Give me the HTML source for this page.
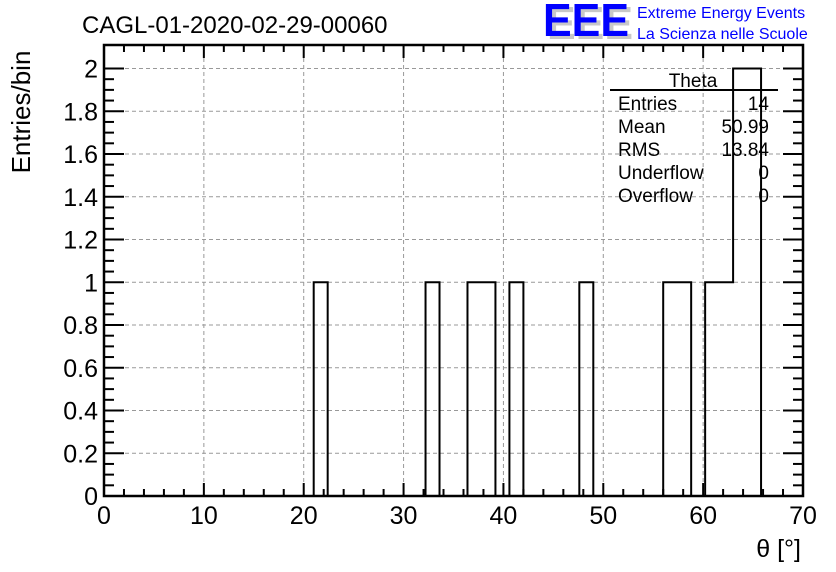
<!DOCTYPE html>
<html><head><meta charset="utf-8"><style>
html,body{margin:0;padding:0;background:#fff;}
svg{display:block;font-family:"Liberation Sans",Arial,sans-serif;}
</style></head><body>
<svg id="c" width="836" height="572" viewBox="0 0 836 572">
<rect width="836" height="572" fill="#fff"/>
<g id="grid"></g>
<g id="hist"></g>
<g id="axes"></g>
<text x="82" y="33" font-size="24">CAGL-01-2020-02-29-00060</text>
<g>
<text x="547" y="39" font-size="46" font-weight="bold" fill="#c8c8c8" textLength="86" lengthAdjust="spacingAndGlyphs">EEE</text>
<text x="543" y="36" font-size="46" font-weight="bold" fill="#0000ff" textLength="86" lengthAdjust="spacingAndGlyphs">EEE</text>
<text x="637" y="18" font-size="16" fill="#0000ff">Extreme Energy Events</text>
<text x="637" y="39" font-size="16" fill="#0000ff">La Scienza nelle Scuole</text>
</g>
<g font-size="19">
<text x="693" y="87" text-anchor="middle">Theta</text>
<line x1="610" y1="90" x2="778" y2="90" stroke="#000" stroke-width="2"/>
<text x="618" y="110">Entries</text><text x="769" y="110" text-anchor="end">14</text>
<text x="618" y="133">Mean</text><text x="769" y="133" text-anchor="end">50.99</text>
<text x="618" y="156">RMS</text><text x="769" y="156" text-anchor="end">13.84</text>
<text x="618" y="179">Underflow</text><text x="769" y="179" text-anchor="end">0</text>
<text x="618" y="202">Overflow</text><text x="769" y="202" text-anchor="end">0</text>
</g>
<text x="30" y="112" font-size="26" transform="rotate(-90 30 112)" text-anchor="middle">Entries/bin</text>
<text x="801" y="557" font-size="25" text-anchor="end">θ [°]</text>
</svg>
<script>
const binLow = [21.0, 32.2, 36.4, 37.8, 40.6, 47.6, 56.0, 57.4, 60.2, 61.6, 63.0, 64.4];
const binCounts = [1, 1, 1, 1, 1, 1, 1, 1, 1, 1, 2, 2];
const binWidth = 1.4;
const xTicks = [0,10,20,30,40,50,60,70];
const yTicks = [0,0.2,0.4,0.6,0.8,1,1.2,1.4,1.6,1.8,2];
const yTickLabels = ["0","0.2","0.4","0.6","0.8","1","1.2","1.4","1.6","1.8","2"];
const X0=104,X1=803,Y0=496,Y1=45;
const xs=v=>X0+(v-0)/(70-0)*(X1-X0);
const ys=v=>Y0-v*(496-68.5)/2;
const NS="http://www.w3.org/2000/svg";
function mk(parent,tag,attrs){const e=document.createElementNS(NS,tag);for(const k in attrs)e.setAttribute(k,attrs[k]);document.getElementById(parent).appendChild(e);return e;}
xTicks.forEach(t=>{if(t>0&&t<70){const l=mk('grid','line',{x1:xs(t),x2:xs(t),y1:Y0,y2:Y1,stroke:'#999','stroke-dasharray':'4,3'});

}});
yTicks.forEach(t=>{if(t>0){const l=mk('grid','line',{x1:X0,x2:X1,y1:ys(t),y2:ys(t),stroke:'#999','stroke-dasharray':'4,3'});

}});
// full bin array
const nb=Math.round(70/binWidth);
const full=new Array(nb).fill(0);
binLow.forEach((b,i)=>{const k=Math.round(b/binWidth);if(k>=0&&k<nb)full[k]+=binCounts[i];});
let d='M'+X0+','+ys(full[0]);
for(let k=0;k<nb;k++){
  if(k>0) d+=' L'+xs(k*binWidth)+','+ys(full[k]);
  d+=' L'+xs((k+1)*binWidth)+','+ys(full[k]);
}
const h=mk('hist','path',{d:d,fill:'none',stroke:'#000','stroke-width':2});


const f=mk('axes','rect',{x:X0,y:Y1,width:X1-X0,height:Y0-Y1,fill:'none',stroke:'#000','stroke-width':2.5});


for(let v=0;v<=70;v+=2){const major=v%10===0;const len=major?13:7;
mk('axes','line',{x1:xs(v),x2:xs(v),y1:Y0,y2:Y0-len,stroke:'#000','stroke-width':2});
mk('axes','line',{x1:xs(v),x2:xs(v),y1:Y1,y2:Y1+len,stroke:'#000','stroke-width':2});}
xTicks.forEach(t=>{const e=mk('axes','text',{x:xs(t),y:524,'font-size':25,'text-anchor':'middle'});e.textContent=t;

});
for(let i=0;i<=40;i++){const v=i*0.05;const major=i%4===0;const len=major?20:10;
mk('axes','line',{x1:X0,x2:X0+len,y1:ys(v),y2:ys(v),stroke:'#000','stroke-width':2});
mk('axes','line',{x1:X1,x2:X1-len,y1:ys(v),y2:ys(v),stroke:'#000','stroke-width':2});}
yTicks.forEach((t,i)=>{const e=mk('axes','text',{x:98,y:ys(t)+9,'font-size':25,'text-anchor':'end'});e.textContent=yTickLabels[i];

});
</script>
</body></html>
